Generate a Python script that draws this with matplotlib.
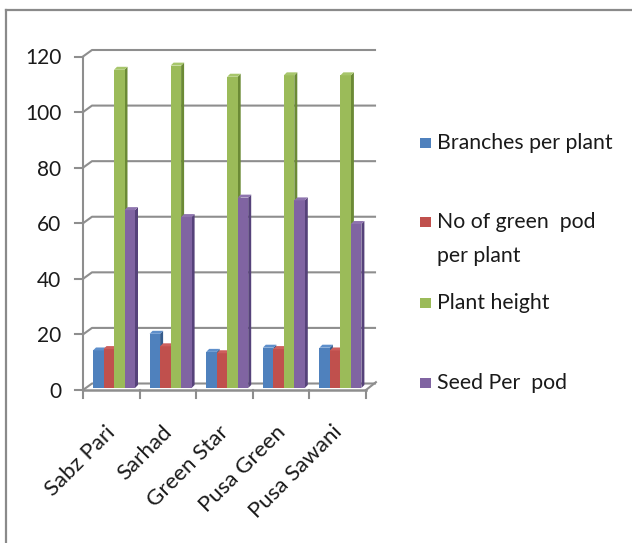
import matplotlib
matplotlib.use("Agg")
import matplotlib.pyplot as plt
from matplotlib.patches import Polygon, Rectangle
from matplotlib.lines import Line2D

plt.rcParams['font.family'] = ['Lato', 'DejaVu Sans']

categories = ["Sabz Pari", "Sarhad", "Green Star", "Pusa Green", "Pusa Sawani"]
series_names = ["Branches per plant", "No of green  pod\nper plant", "Plant height", "Seed Per  pod"]
branches = [13.5, 19.5, 13.0, 14.5, 14.5]
green_pods = [14.0, 15.0, 12.5, 14.0, 13.5]
plant_height = [114.5, 116.0, 112.0, 112.5, 112.5]
seed_per_pod = [64.0, 61.5, 68.5, 67.5, 59.0]
yticks = [0, 20, 40, 60, 80, 100, 120]

series = [branches, green_pods, plant_height, seed_per_pod]
front_cols = ["#4F81BD", "#C0504D", "#9BBB59", "#8064A2"]
side_cols = ["#355C8C", "#8E3532", "#6B8A35", "#56427A"]
top_cols = ["#5E8FCB", "#CD5F5C", "#A7C66B", "#8E74AE"]

W, H = 632, 543
fig = plt.figure(figsize=(W / 100, H / 100), dpi=100)

# axes covering the front plane of the chart box
x0, x1, y0, y1 = 83, 366, 390, 56.5
ax = fig.add_axes([x0 / W, 1 - y0 / H, (x1 - x0) / W, (y0 - y1) / H])
ax.set_xlim(0, 5)
ax.set_ylim(0, 120)
ux = 5 / (x1 - x0)
uy = 120 / (y0 - y1)

grid_c = "#8E8E8E"
# depth of the floor / walls
fdx, fdy = 9 * ux, 6.5 * uy

for v in yticks:
    ax.add_line(Line2D([0, fdx, 5 + fdx], [v, v + fdy, v + fdy], color=grid_c,
                       lw=1.5, clip_on=False, zorder=1))

# floor slab
ax.add_line(Line2D([0, 5], [0, 0], color=grid_c, lw=1.8, clip_on=False, zorder=2))
ax.add_line(Line2D([5, 5 + fdx * 1.1], [0, fdy * 1.2], color=grid_c, lw=1.5,
                   clip_on=False, zorder=2))
for i in range(6):
    ax.add_line(Line2D([i, i], [0, -8 * uy], color=grid_c, lw=1.5, clip_on=False, zorder=2))

# left axis
ax.add_line(Line2D([0, 0], [0, 120], color=grid_c, lw=1.5, clip_on=False, zorder=2))
for v in yticks:
    ax.add_line(Line2D([-8 * ux, 0], [v, v], color=grid_c, lw=1.5, clip_on=False, zorder=2))

for s in ax.spines.values():
    s.set_visible(False)
ax.set_xticks([])
ax.set_yticks(yticks)
ax.set_yticklabels([str(v) for v in yticks], fontsize=15, color="#1A1A1A")
ax.tick_params(axis="y", length=0, pad=15.5)

# 3D-style columns
bw = 10.5 * ux
g0 = 10 * ux
b0 = 2 * uy
ddx, ddy = 3 * ux, 3 * uy
for i in range(len(categories)):
    for j, vals in enumerate(series):
        v = vals[i]
        xl = i + g0 + j * bw
        xr = xl + bw
        top = b0 + v
        z = 3 + i * 0.01 + j * 0.001
        ax.add_patch(Polygon([(xr, b0), (xr, top), (xr + ddx, top + ddy), (xr + ddx, b0 + ddy)],
                             closed=True, facecolor=side_cols[j], edgecolor="none",
                             clip_on=False, zorder=z))
        ax.add_patch(Rectangle((xl, b0), bw, v, facecolor=front_cols[j], edgecolor="none",
                               clip_on=False, zorder=z))
        ax.add_patch(Polygon([(xl, top), (xr, top), (xr + ddx, top + ddy), (xl + ddx, top + ddy)],
                             closed=True, facecolor=top_cols[j], edgecolor="none",
                             clip_on=False, zorder=z))

# category labels
for i, name in enumerate(categories):
    ax.text(i + 0.5 + 1 * ux, -39 * uy, name, rotation=45, rotation_mode="anchor",
            ha="right", va="center", fontsize=16, color="#1A1A1A")

# legend
leg_y = [143, 222, 303, 383]
for j, (name, yy) in enumerate(zip(series_names, leg_y)):
    fig.patches.append(Rectangle((420 / W, 1 - (yy + 5) / H), 11 / W, 10 / H,
                                 transform=fig.transFigure, facecolor=front_cols[j],
                                 edgecolor="none"))
    lines = name.split("\n")
    for k, ln in enumerate(lines):
        fig.text(437 / W, 1 - (yy + 33.5 * k) / H, ln, fontsize=15.3, color="#1A1A1A",
                 ha="left", va="center")

# chart border
fig.add_artist(Line2D([6 / W, 6 / W], [0, 1 - 10 / H], transform=fig.transFigure,
                      color="#8A8A8A", lw=1.6))
fig.add_artist(Line2D([6 / W, 1], [1 - 10 / H, 1 - 10 / H], transform=fig.transFigure,
                      color="#8A8A8A", lw=1.6))

fig.savefig("out.png", dpi=100)
